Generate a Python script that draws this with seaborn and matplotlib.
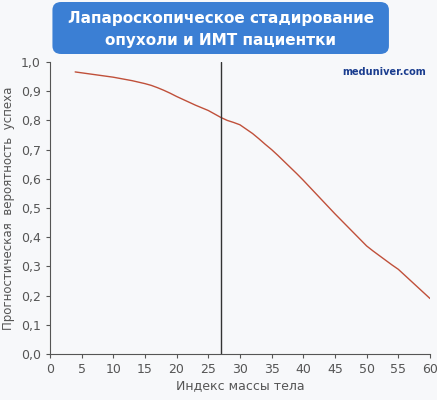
import matplotlib
matplotlib.use("Agg")
import matplotlib.pyplot as plt
import seaborn as sns
from matplotlib.patches import FancyBboxPatch

bmi = list(range(4, 61))
prob = [0.966, 0.963, 0.96, 0.957, 0.954, 0.951, 0.948, 0.944, 0.94, 0.936,
        0.931, 0.926, 0.92, 0.912, 0.903, 0.893, 0.882, 0.872, 0.862, 0.852,
        0.843, 0.834, 0.822, 0.81, 0.80, 0.793, 0.785, 0.77, 0.755, 0.737,
        0.718, 0.70, 0.68, 0.659, 0.638, 0.617, 0.595, 0.572, 0.549, 0.526,
        0.503, 0.48, 0.458, 0.436, 0.414, 0.392, 0.37, 0.353, 0.337, 0.321,
        0.305, 0.29, 0.27, 0.25, 0.23, 0.21, 0.19]
cutoff = 27
xticks = list(range(0, 61, 5))
yticks = [i / 10 for i in range(11)]

sns.set_style("ticks")
plt.rcParams["font.family"] = ["DejaVu Sans"]

fig = plt.figure(figsize=(4.37, 4.0), dpi=100)
fig.patch.set_facecolor("#f7f8fa")
ax = fig.add_axes([0.114, 0.115, 0.87, 0.73])
ax.set_facecolor("#f7f8fa")
sns.lineplot(x=bmi, y=prob, ax=ax, color="#c0503a", lw=1.0)
ax.axvline(cutoff, color="#333333", lw=1.0)
ax.set_xlim(0, 60)
ax.set_ylim(0, 1.0)
ax.set_xticks(xticks)
ax.set_yticks(yticks)
ax.set_yticklabels([f"{v:.1f}".replace(".", ",") for v in yticks])
ax.tick_params(labelsize=9, colors="#555555", length=3)
for s in ["top", "right"]:
    ax.spines[s].set_visible(False)
for s in ["left", "bottom"]:
    ax.spines[s].set_color("#555555")
ax.set_xlabel("Индекс массы тела", fontsize=9, color="#555555", labelpad=2)
ax.set_ylabel("Прогностическая  вероятность  успеха", fontsize=8.5, color="#555555", labelpad=4)

banner = FancyBboxPatch((0.125, 0.87), 0.76, 0.12, boxstyle="round,pad=0.005,rounding_size=0.02",
                        transform=fig.transFigure, facecolor="#3b7fd4", edgecolor="none")
fig.patches.append(banner)
fig.text(0.505, 0.955, "Лапароскопическое стадирование", ha="center", va="center",
         color="white", fontsize=11, fontweight="bold")
fig.text(0.505, 0.898, "опухоли и ИМТ пациентки", ha="center", va="center",
         color="white", fontsize=11, fontweight="bold")
fig.text(0.88, 0.82, "meduniver.com", ha="center", va="center", color="#1a3d8f",
         fontsize=7, fontweight="bold")

fig.savefig("out.png", dpi=100)
